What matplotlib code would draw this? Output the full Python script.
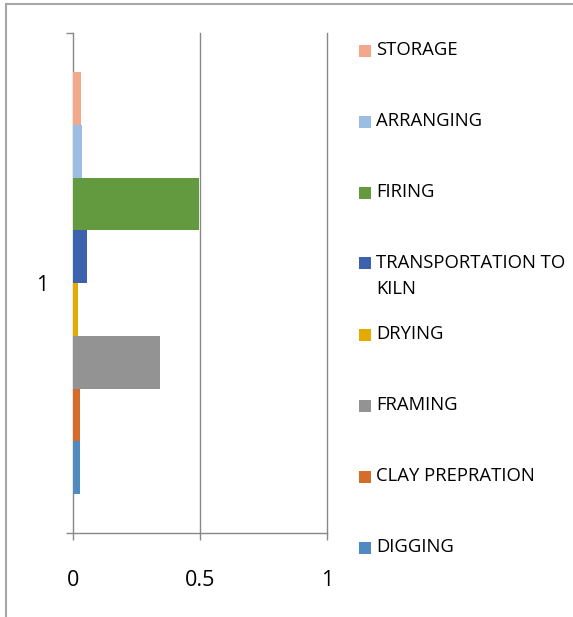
import numpy as np
import matplotlib.pyplot as plt
from matplotlib.patches import Rectangle

plt.rcParams['font.family'] = ['Open Sans', 'DejaVu Sans']

# one category, one series per process step (bottom to top)
steps = ['DIGGING', 'CLAY PREPRATION', 'FRAMING', 'DRYING',
         'TRANSPORTATION TO\nKILN', 'FIRING', 'ARRANGING', 'STORAGE']
values = [0.026, 0.026, 0.341, 0.018, 0.054, 0.495, 0.034, 0.030]
colors = ['#4F8BC0', '#D46D2C', '#939393', '#E3AA00',
          '#3C62AE', '#639A3F', '#9BBDE3', '#F2A88A']
category = 1
xticks = [0, 0.5, 1]
xticklabels = ['0', '0.5', '1']

W, H = 573, 617
fig = plt.figure(figsize=(W / 100, H / 100), dpi=100)
ax = fig.add_axes([73 / W, 1 - 533 / H, (327 - 73) / W, (533 - 33) / H])

n = len(values)
group = 0.844
h = group / n
pos = category - group / 2 + h * (np.arange(n) + 0.5)
ax.barh(pos, values, height=h, color=colors, zorder=3)

ax.set_xlim(0, 1)
ax.set_ylim(category - 0.5, category + 0.5)
ax.set_xticks(xticks)
ax.set_xticklabels(xticklabels)
ax.set_yticks([category])
ax.set_yticklabels([str(category)])
ax.set_yticks([category - 0.5, category + 0.5], minor=True)

grid_col = '#888888'
for x in xticks[1:]:
    ax.axvline(x, color=grid_col, lw=1, zorder=1, clip_on=False)
for s in ['top', 'right']:
    ax.spines[s].set_visible(False)
for s in ['left', 'bottom']:
    ax.spines[s].set_color(grid_col)
    ax.spines[s].set_linewidth(1)

ax.tick_params(axis='x', length=5, width=1, color=grid_col, pad=22,
               labelsize=15.5, labelcolor='#000000')
ax.tick_params(axis='y', which='major', length=0, pad=18,
               labelsize=15.5, labelcolor='#000000')
ax.tick_params(axis='y', which='minor', length=5, width=1, color=grid_col)

# legend, drawn row by row from the top
rows = list(zip(steps, colors))[::-1]
y0, dy = 50.5, 71
for i, (name, col) in enumerate(rows):
    yc = y0 + i * dy
    fig.add_artist(Rectangle((359 / W, 1 - (yc + 6) / H), 12 / W, 12 / H,
                             transform=fig.transFigure, color=col, lw=0))
    fig.text(376 / W, 1 - (yc - 9.5) / H, name, fontsize=13.3, va='top',
             ha='left', color='#000000', linespacing=1.55)

# outer frame
fig.add_artist(Rectangle((6 / W, -0.1), 1.2, 1 - 4 / H + 0.1,
                         transform=fig.transFigure, fill=False,
                         edgecolor='#A6A6A6', lw=1.5))

fig.savefig('out.png', dpi=100)
